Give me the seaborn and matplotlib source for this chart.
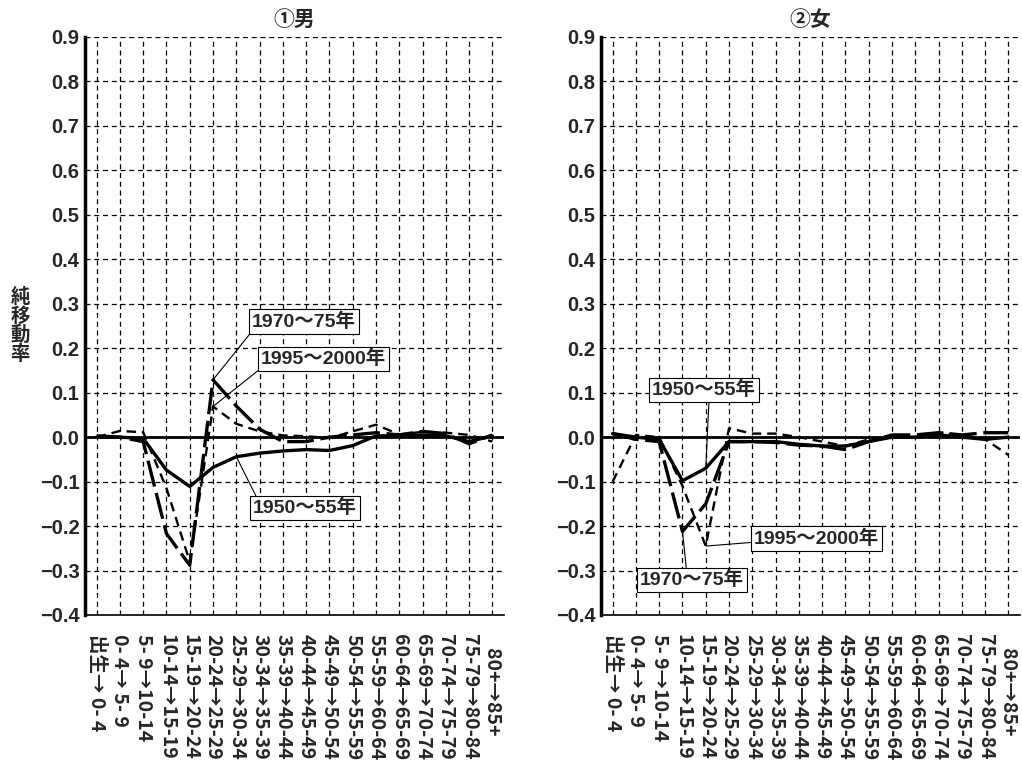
import pandas as pd
import seaborn as sns
import matplotlib
matplotlib.use('Agg')
import matplotlib.pyplot as plt
from matplotlib.ticker import FuncFormatter, MultipleLocator

# age transitions (x axis)
age_labels = ["出生→ 0- 4", "0- 4→ 5- 9", "5- 9→10-14", "10-14→15-19",
              "15-19→20-24", "20-24→25-29", "25-29→30-34", "30-34→35-39",
              "35-39→40-44", "40-44→45-49", "45-49→50-54", "50-54→55-59",
              "55-59→60-64", "60-64→65-69", "65-69→70-74", "70-74→75-79",
              "75-79→80-84", "   80+→85+   "]
periods = ["1950～55年", "1970～75年", "1995～2000年"]

# net migration rate, male
male_1950 = [0.000, 0.000, -0.003, -0.074, -0.111, -0.068, -0.044, -0.036, -0.031,
             -0.028, -0.030, -0.019, 0.003, 0.003, 0.005, 0.003, -0.010, 0.003]
male_1970 = [0.003, 0.000, -0.010, -0.217, -0.288, 0.129, 0.070, 0.018, -0.010,
             -0.010, 0.000, 0.005, 0.010, 0.005, 0.013, 0.008, -0.015, 0.005]
male_1995 = [0.000, 0.014, 0.011, -0.115, -0.280, 0.069, 0.030, 0.013, 0.004,
             0.002, -0.002, 0.013, 0.028, 0.006, 0.012, 0.010, 0.005, -0.010]

# net migration rate, female
female_1950 = [0.008, 0.000, -0.005, -0.098, -0.070, -0.010, -0.010, -0.010, -0.016,
               -0.020, -0.020, -0.010, 0.000, 0.000, 0.005, 0.000, -0.005, 0.000]
female_1970 = [0.008, -0.005, -0.010, -0.212, -0.150, -0.010, -0.010, -0.012, -0.018,
               -0.020, -0.028, -0.010, 0.005, 0.005, 0.010, 0.005, 0.010, 0.010]
female_1995 = [-0.100, 0.005, 0.000, -0.110, -0.245, 0.020, 0.008, 0.008, 0.000,
               -0.010, -0.020, -0.005, 0.000, 0.000, 0.010, 0.005, -0.005, -0.040]


def to_long(series):
    rows = []
    for period, vals in zip(periods, series):
        for i, v in enumerate(vals):
            rows.append({"pos": i, "value": v, "period": period})
    return pd.DataFrame(rows)


male_df = to_long([male_1950, male_1970, male_1995])
female_df = to_long([female_1950, female_1970, female_1995])

sns.set_style("white")
plt.rcParams['font.family'] = ['Liberation Sans', 'Noto Sans CJK JP', 'DejaVu Sans']
plt.rcParams['font.weight'] = 'bold'

fig = plt.figure(figsize=(10.22, 7.68), dpi=100)
ax1 = fig.add_axes([85 / 1022, 153 / 768, 419 / 1022, 578 / 768])
ax2 = fig.add_axes([601 / 1022, 153 / 768, 419 / 1022, 578 / 768])

palette = {p: "black" for p in periods}
dashes = {periods[0]: "", periods[1]: (8, 2), periods[2]: (4, 2.5)}
sizes = {periods[0]: 2.4, periods[1]: 2.4, periods[2]: 1.7}

box = dict(boxstyle="square,pad=0.15", fc="white", ec="black", lw=0.8)
label_font = ['Liberation Sans', 'Noto Sans CJK JP']


def note(ax, text, xy, xytext, relpos):
    ax.annotate(text, xy=xy, xytext=xytext, ha="center", va="center",
                fontsize=14, fontweight="bold", family=label_font, bbox=box,
                arrowprops=dict(arrowstyle="-", color="black", lw=0.8,
                                relpos=relpos, shrinkA=0, shrinkB=0),
                zorder=6)


for ax, df, title in [(ax1, male_df, "①男"), (ax2, female_df, "②女")]:
    ax.axhline(0, color="black", lw=2, zorder=3)
    sns.lineplot(data=df, x="pos", y="value", hue="period", style="period",
                 size="period", palette=palette, dashes=dashes, sizes=sizes,
                 legend=False, ax=ax, zorder=4)
    ax.set_xlim(-0.5, 17.5)
    ax.set_ylim(-0.4, 0.9)
    ax.yaxis.set_major_locator(MultipleLocator(0.1))
    ax.yaxis.set_major_formatter(FuncFormatter(
        lambda v, _: f"{round(v, 1) + 0.0:.1f}".replace("-", "−")))
    ax.set_xticks(range(len(age_labels)))
    ax.set_xticklabels(age_labels, rotation=-90, va="top", ha="center",
                       fontsize=14, fontweight="bold", family=['Noto Sans CJK JP'])
    ax.tick_params(axis="x", length=0, pad=14)
    ax.tick_params(axis="y", direction="in", length=5, width=1.5,
                   labelsize=14.5, pad=4)
    ax.grid(True, color="black", linestyle=(0, (4, 3)), linewidth=0.9)
    for s in ["top", "right"]:
        ax.spines[s].set_visible(False)
    ax.spines["left"].set_linewidth(2.5)
    ax.spines["left"].set_color("black")
    ax.spines["bottom"].set_linewidth(1.2)
    ax.spines["bottom"].set_color("black")
    ax.set_xlabel("")
    ax.set_ylabel("")
    ax.set_title(title, fontsize=15, fontweight="bold",
                 family=['Noto Sans CJK JP'], pad=8)

ax1.set_ylabel("純\n移\n動\n率", rotation=0, va="center", ha="center",
               fontsize=14, fontweight="bold", family=['Noto Sans CJK JP'],
               linespacing=1.0)
ax1.yaxis.set_label_coords(-0.155, 0.5)

note(ax1, periods[1], (5, 0.129), (8.9, 0.26), (0.02, 0.1))
note(ax1, periods[2], (5, 0.069), (9.75, 0.176), (0.02, 0.1))
note(ax1, periods[0], (6, -0.044), (8.94, -0.16), (0.05, 0.95))

note(ax2, periods[0], (4, -0.07), (3.92, 0.106), (0.55, 0.0))
note(ax2, periods[2], (4, -0.245), (8.77, -0.228), (0.0, 0.3))
note(ax2, periods[1], (3, -0.212), (3.4, -0.322), (0.45, 1.0))

fig.savefig("out.png", dpi=100)
